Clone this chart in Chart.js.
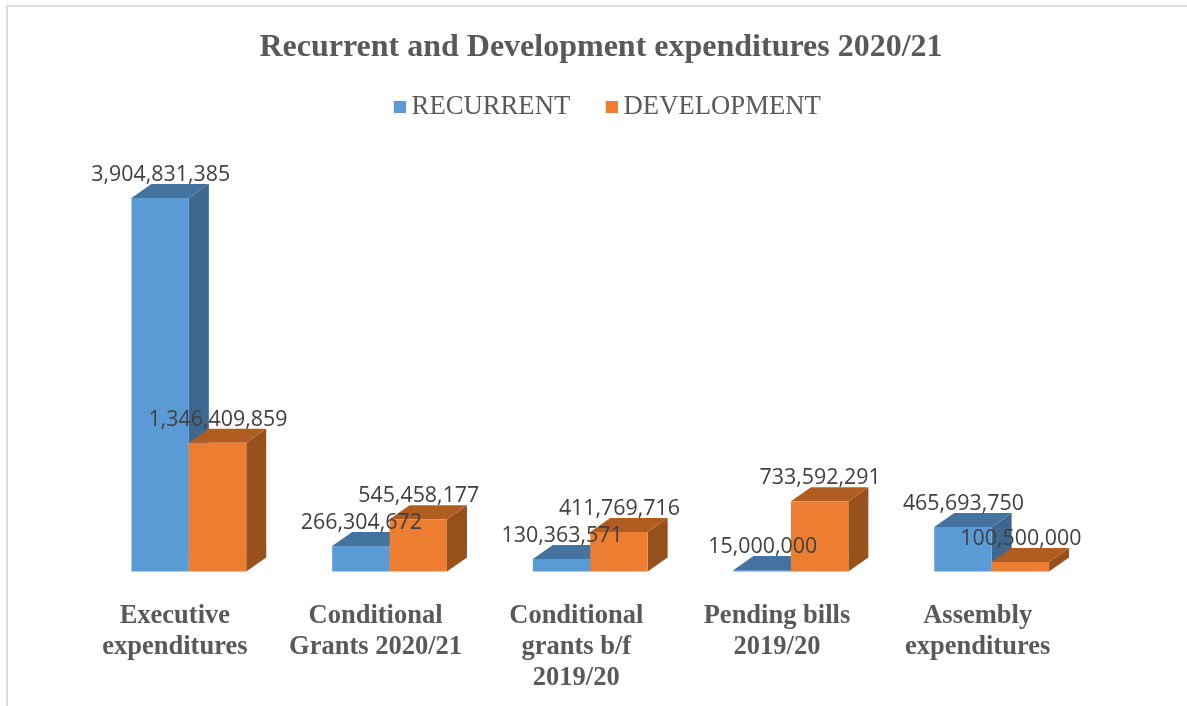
<!DOCTYPE html>
<html><head><meta charset="utf-8">
<style>
html,body{margin:0;padding:0;background:#fff;overflow:hidden}
#frame{position:absolute;left:6px;top:5px;width:1187px;height:706px;border-left:2px solid #dcdcdc;border-top:2px solid #dcdcdc}
#wrap{position:absolute;left:0;top:0;width:1187px;height:706px}
</style>
<script src="https://cdn.jsdelivr.net/npm/chart.js@4"></script>
</head><body>
<div id="frame"></div>
<div id="wrap"><canvas id="c" width="1187" height="706"></canvas></div>
<script>
const titleText = 'Recurrent and Development expenditures 2020/21';
const categories = [
  ['Executive','expenditures'],
  ['Conditional','Grants 2020/21'],
  ['Conditional','grants b/f','2019/20'],
  ['Pending bills','2019/20'],
  ['Assembly','expenditures']
];
const recurrent = [3904831385, 266304672, 130363571, 15000000, 465693750];
const development = [1346409859, 545458177, 411769716, 733592291, 100500000];

const fronts = {RECURRENT:'#5b9bd5', DEVELOPMENT:'#ed7d31'};
const sides = {RECURRENT:'#3f6890', DEVELOPMENT:'#97511d'};
const tops = {RECURRENT:'#44739f', DEVELOPMENT:'#b15d21'};
const DX = 20, DY = 14;

function swatch(color){
  const s = document.createElement('canvas'); s.width = 16; s.height = 12;
  const g = s.getContext('2d'); g.fillStyle = color; g.fillRect(4,0,12,12);
  return s;
}
function poly(ctx, color, pts){
  ctx.fillStyle = color; ctx.beginPath();
  pts.forEach((p,i)=> i ? ctx.lineTo(p[0],p[1]) : ctx.moveTo(p[0],p[1]));
  ctx.closePath(); ctx.fill();
}
const depthPlugin = {
  id:'depth',
  afterLayout(chart){ chart.legend.left += 8; chart.legend.right += 8; },
  beforeDatasetDraw(){ return false; },
  beforeDatasetsDraw(chart){
    const ctx = chart.ctx;
    chart.data.datasets.forEach((ds,i)=>{
      const meta = chart.getDatasetMeta(i);
      meta.data.forEach(el=>{
        const l = el.x - el.width/2, r = el.x + el.width/2, t = el.y, b = el.base;
        poly(ctx, sides[ds.label], [[r,t],[r+DX,t-DY],[r+DX,b-DY],[r,b]]);
        poly(ctx, tops[ds.label], [[l,t],[l+DX,t-DY],[r+DX,t-DY],[r,t]]);
      });
      meta.controller.draw();
    });
  },
  afterDatasetsDraw(chart){
    const ctx = chart.ctx;
    ctx.save();
    ctx.font = '21.4px "Open Sans"';
    ctx.fillStyle = '#404040';
    ctx.textAlign = 'center'; ctx.textBaseline = 'middle';
    chart.data.datasets.forEach((ds,i)=>{
      chart.getDatasetMeta(i).data.forEach((el,j)=>{
        ctx.fillText(ds.data[j].toLocaleString('en-US'), el.x + 0.5, el.y - 23);
      });
    });
    ctx.restore();
  }
};

new Chart(document.getElementById('c'), {
  type:'bar',
  data:{labels:categories, datasets:[
    {label:'RECURRENT', data:recurrent, backgroundColor:fronts.RECURRENT, yAxisID:'y'},
    {label:'DEVELOPMENT', data:development, backgroundColor:fronts.DEVELOPMENT, yAxisID:'y'}
  ]},
  plugins:[depthPlugin],
  options:{
    responsive:false, animation:false,
    layout:{padding:{left:15,right:0,top:29,bottom:0}},
    datasets:{bar:{categoryPercentage:0.572, barPercentage:1}},
    plugins:{
      tooltip:{enabled:false},
      title:{display:true, text:titleText, color:'#595959',
        font:{family:'"Liberation Serif"', size:32, weight:'bold'}, padding:{top:0,bottom:-13}},
      legend:{display:true, position:'top',
        labels:{font:{family:'"Liberation Serif"', size:26.7}, color:'#595959',
          usePointStyle:true, pointStyleWidth:1, padding:39,
          generateLabels(chart){
            return Chart.defaults.plugins.legend.labels.generateLabels(chart).map(it=>{
              it.pointStyle = swatch(fronts[it.text]); it.fontColor = '#595959'; return it;
            });
          }}}
    },
    scales:{
      x:{grid:{display:false}, border:{display:false},
        afterFit(s){s.height=134.5;},
        ticks:{color:'#595959', font:{family:'"Liberation Serif"', size:26.5, weight:'bold', lineHeight:1.17},
          padding:21, labelOffset:-14, maxRotation:0, minRotation:0, autoSkip:false}},
      y:{position:'left', min:0, max:4614000000, grid:{display:false}, border:{display:false},
        ticks:{display:false}, afterFit(s){s.width=73.5;}},
      y2:{position:'right', min:0, max:1, grid:{display:false}, border:{display:false},
        ticks:{display:false}, afterFit(s){s.width=95;}}
    }
  }
});
</script>
</body></html>
